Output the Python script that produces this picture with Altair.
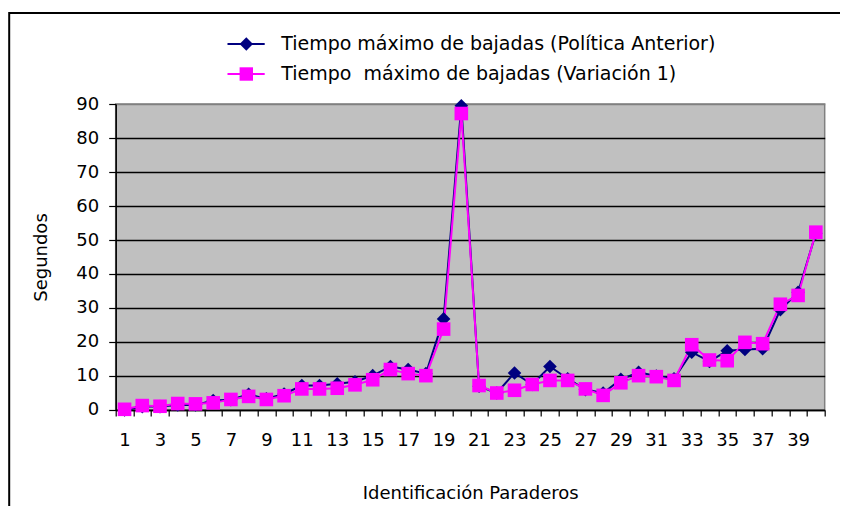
import altair as alt
import pandas as pd

paraderos = list(range(1, 41))
anterior = [0, 1, 1, 1.5, 1.5, 2.8, 3, 4.6, 3.3, 4.7,
            7.2, 7.2, 7.7, 8.3, 10.1, 12.8, 11.9, 10.7, 26.8, 89.5,
            7, 5, 10.9, 7.5, 12.8, 9.2, 6.0, 5.0, 9.0, 11.1,
            10, 9.2, 17.0, 14.3, 17.4, 17.8, 18.0, 29.5, 34.6, 52]
variacion = [0.2, 1.3, 1.1, 1.9, 1.8, 2.1, 3.1, 4.0, 3.1, 4.2,
             6.2, 6.2, 6.4, 7.4, 8.9, 11.9, 10.7, 10.1, 23.8, 87.2,
             7.2, 5.0, 5.8, 7.5, 8.7, 8.7, 6.2, 4.3, 8.0, 10.1,
             9.8, 8.7, 19.2, 14.7, 14.5, 19.9, 19.5, 31.1, 33.7, 52.3]
serie_a = "Tiempo máximo de bajadas (Política Anterior)"
serie_b = "Tiempo\u00a0 máximo de bajadas (Variación 1)"
series = [serie_a, serie_b]
colores = ["#000080", "#FF00FF"]
formas = ["diamond", "square"]

df = pd.DataFrame({
    "Paradero": paraderos * 2,
    "Segundos": anterior + variacion,
    "Serie": [serie_a] * 40 + [serie_b] * 40,
})

FONT = "DejaVu Sans"
FS = 18
W, H = 709, 306
band = W / 40

xenc = alt.X(
    "Paradero:Q",
    scale=alt.Scale(domain=[0.5, 40.5], nice=False, zero=False),
    axis=alt.Axis(
        values=[i + 0.5 for i in range(0, 41)],
        labelExpr="((datum.value + 0.5) % 2 == 1 && datum.value < 40) ? format(datum.value + 0.5, 'd') : ''",
        labelOffset=band / 2,
        labelFlush=False,
        labelOverlap=False,
        labelPadding=16,
        labelFontSize=FS,
        labelFont=FONT,
        labelColor="black",
        grid=False,
        domainColor="black",
        domainWidth=1.5,
        tickColor="black",
        tickWidth=1.2,
        tickSize=6,
        title="Identificación Paraderos",
        titleFont=FONT,
        titleFontSize=FS,
        titleFontWeight="normal",
        titleColor="black",
        titleX=W / 2,
        titleY=84,
        titleBaseline="middle",
    ),
)
yenc = alt.Y(
    "Segundos:Q",
    scale=alt.Scale(domain=[0, 90], nice=False),
    axis=alt.Axis(
        values=list(range(0, 91, 10)),
        labelFontSize=FS,
        labelFont=FONT,
        labelColor="black",
        labelPadding=10,
        grid=True,
        gridColor={"condition": {"test": "datum.value == 90", "value": "#808080"}, "value": "black"},
        gridWidth=1.3,
        gridOpacity=1,
        domainColor="black",
        domainWidth=1.5,
        tickColor="black",
        tickWidth=1.2,
        tickSize=7,
        title="Segundos",
        titleFont=FONT,
        titleFontSize=FS,
        titleFontWeight="normal",
        titleColor="black",
        titleX=-74,
        titleY=H / 2,
        titleAngle=-90,
        titleAlign="center",
        titleBaseline="middle",
    ),
)

color_scale = alt.Scale(domain=series, range=colores)

leg_common = dict(
    title=None, orient="none", legendY=-69.5, padding=0,
    labelFont=FONT, labelFontSize=19, rowPadding=10, labelLimit=0,
)

lineas = alt.Chart(df).mark_line(strokeWidth=2).encode(
    x=xenc, y=yenc,
    color=alt.Color("Serie:N", scale=color_scale, legend=alt.Legend(
        legendX=120.9, symbolType="M-2.7,0H2.7", symbolSize=190,
        symbolStrokeWidth=2, labelOffset=25.6, labelColor="black", **leg_common)),
)

leg_pts = alt.Legend(legendX=121.1, symbolSize=180, labelOffset=25.6,
                     labelColor="black", labelOpacity=0, **leg_common)
puntos = alt.Chart(df).mark_point(filled=True, size=185, opacity=1).encode(
    x=xenc, y=yenc,
    color=alt.Color("Serie:N", scale=color_scale, legend=leg_pts),
    shape=alt.Shape("Serie:N", scale=alt.Scale(domain=series, range=formas), legend=leg_pts),
)

marco = alt.Chart(pd.DataFrame({"k": [0]})).mark_rect(
    fill=None, stroke="black", strokeWidth=2
).encode(
    x=alt.value(-106.5), x2=alt.value(W + 200),
    y=alt.value(-91), y2=alt.value(H + 200),
)

chart = alt.layer(marco, lineas, puntos).resolve_legend(
    color="independent", shape="independent"
).properties(
    width=W, height=H,
    background="white",
    autosize=alt.AutoSizeParams(type="none"),
    padding={"left": 107.7, "top": 96, "right": 15, "bottom": 96},
).configure_view(
    fill="#C0C0C0", stroke="#808080", strokeWidth=1.5
)

chart.save("out.html", embed_options={"renderer": "svg", "actions": False})
